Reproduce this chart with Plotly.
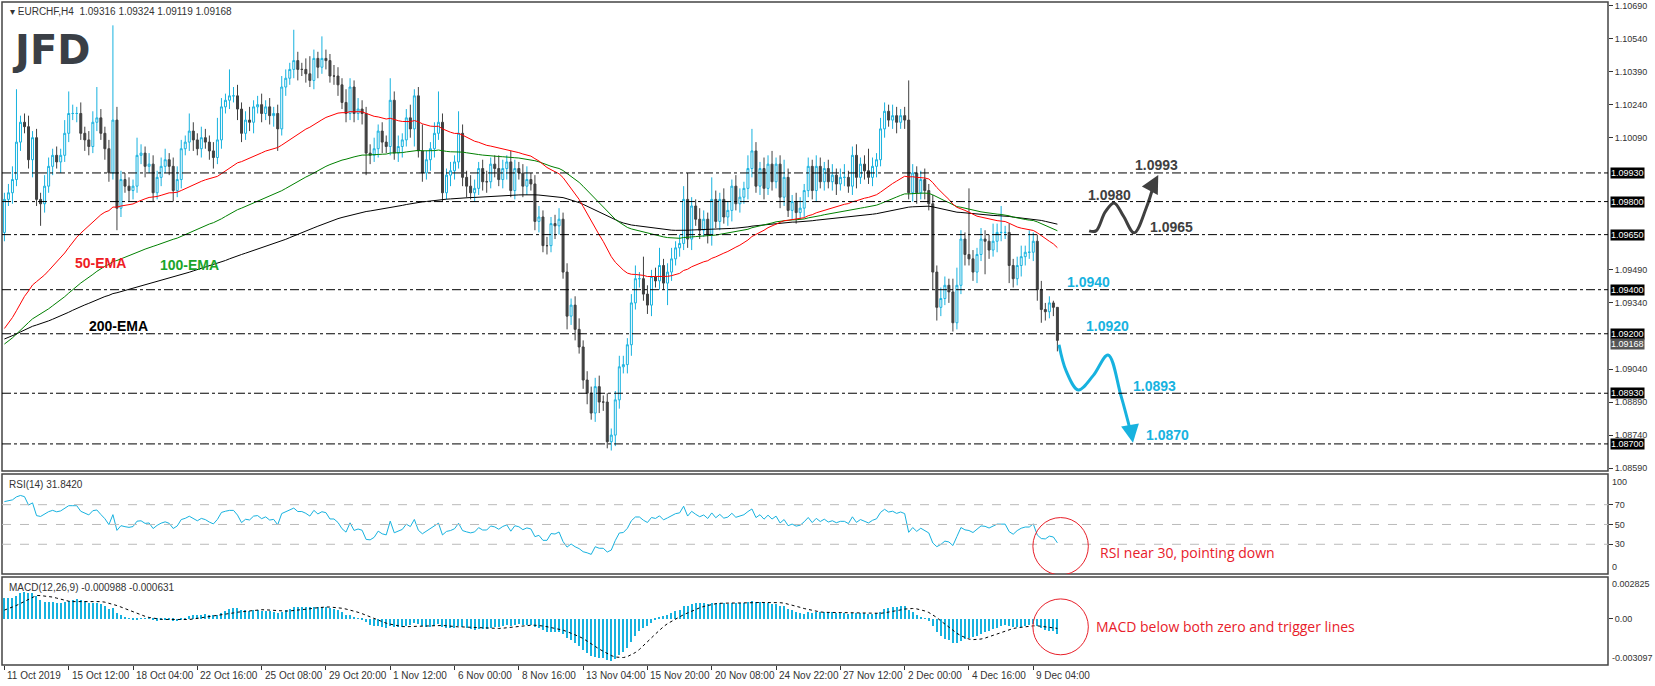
import plotly.graph_objects as go

# ---- data (EURCHF H4) ----
closes = [
    1.0981, 1.0984, 1.0990, 1.1007, 1.1016, 1.1014, 1.0999, 1.1009, 1.0981, 1.0979,
    1.0987, 1.0996, 1.1001, 1.0998, 1.1001, 1.1011, 1.1020, 1.1020, 1.1020, 1.1011,
    1.1008, 1.1005, 1.1016, 1.1018, 1.1011, 1.1004, 1.0993, 1.1017, 1.0977, 1.0990,
    1.0987, 1.0985, 1.0987, 1.1001, 1.1002, 1.0996, 1.0997, 1.0984, 1.0991, 1.0996,
    1.0999, 1.0996, 1.0985, 1.0990, 1.1004, 1.1007, 1.1012, 1.1008, 1.1004, 1.1009,
    1.1007, 1.1003, 1.1000, 1.1008, 1.1023, 1.1026, 1.1028, 1.1028, 1.1022, 1.1011,
    1.1017, 1.1016, 1.1023, 1.1024, 1.1020, 1.1023, 1.1019, 1.1020, 1.1013, 1.1032,
    1.1036, 1.1040, 1.1044, 1.1040, 1.1040, 1.1038, 1.1035, 1.1045, 1.1041, 1.1045,
    1.1044, 1.1037, 1.1037, 1.1033, 1.1025, 1.1020, 1.1032, 1.1020, 1.1022, 1.1020,
    1.1002, 1.1001, 1.1004, 1.1012, 1.1007, 1.1005, 1.1026, 1.1002, 1.1005, 1.1008,
    1.1018, 1.1013, 1.1028, 1.1003, 1.0993, 1.0999, 1.1004, 1.1011, 1.1016, 1.0984,
    1.0992, 1.0994, 1.0998, 1.1011, 1.0991, 1.0987, 1.0984, 1.0986, 1.0995, 1.0989,
    1.0989, 1.0997, 1.0995, 1.0990,
    1.0995, 1.0998, 1.0985, 1.0995, 1.0993, 1.0987, 1.0990, 1.0988,
    1.0971, 1.0973, 1.0960, 1.0960, 1.0970, 1.0969, 1.0972, 1.0948,
    1.0928, 1.0933, 1.0922, 1.0914, 1.0899, 1.0893, 1.0884, 1.0896, 1.0889, 1.0889,
    1.0871, 1.0874, 1.0890, 1.0905, 1.0906, 1.0915, 1.0934, 1.0945, 1.0945, 1.0938,
    1.0933, 1.0946, 1.0944, 1.0951, 1.0943, 1.0948, 1.0954, 1.0959, 1.0961,
    1.0981, 1.0963, 1.0978, 1.0972, 1.0967, 1.0972, 1.0965, 1.0981, 1.0971,
    1.0981, 1.0973, 1.0976, 1.0987, 1.0979, 1.0982, 1.0986, 1.0995,
    1.1003, 1.0987, 1.0995, 1.0986, 1.0997, 1.0989, 1.0997, 1.0982, 1.0991,
    1.0976, 1.0980, 1.0975, 1.0977, 1.0985, 1.0996, 1.0985, 1.0996, 1.0989,
    1.0995, 1.0989, 1.0992, 1.0988, 1.0991, 1.0991, 1.0987, 1.1001, 1.0991,
    1.0997, 1.0994, 1.0991, 1.0996, 1.0999, 1.1013, 1.1021, 1.1017, 1.1019,
    1.1016, 1.1019, 1.1017, 1.0984, 1.0993, 1.0984, 1.0990, 1.0985, 1.0979,
    1.0948, 1.0932, 1.0936, 1.0942, 1.0939, 1.0925, 1.0942, 1.0963, 1.0956,
    1.0954, 1.0948, 1.0956, 1.0963, 1.0962, 1.0958, 1.0962, 1.0966, 1.0966,
    1.0966, 1.0951, 1.0945, 1.0951, 1.0955, 1.0957, 1.0957, 1.0962, 1.0940,
    1.0931, 1.0930, 1.0934, 1.0932, 1.0917,
]
first_open = 1.0966

upper_wick_pips = [
    3, 4, 6, 24, 3, 4, 5, 3, 4, 3, 5, 4, 3, 4, 3, 6, 10, 4, 3, 5,
    3, 4, 5, 14, 4, 3, 4, 43, 6, 4, 3, 4, 3, 8, 4, 3, 5, 4, 3, 4,
    5, 3, 4, 6, 4, 3, 8, 4, 3, 5, 4, 3, 4, 10, 4, 3, 12, 4, 5, 3,
    4, 6, 3, 4, 5, 3, 4, 3, 4, 5, 4, 3, 14, 4, 3, 5, 8, 4, 3, 10,
    4, 3, 5, 4, 3, 6, 4, 3, 5, 4, 3, 4, 5, 3, 4, 3, 10, 4, 5, 3,
    4, 6, 3, 4, 12, 4, 3, 5, 14, 4, 3, 4, 3, 10, 4, 3, 5, 4, 3, 4,
    5, 3, 4, 6, 4, 3, 5, 4, 3, 4, 6, 3, 4, 5, 3, 4, 3, 4, 5, 3,
    4, 3, 4, 5, 3, 4, 3, 4, 5, 3, 4, 3, 4, 5, 4, 3, 4, 6, 3, 10,
    4, 3, 4, 8, 3, 4, 5, 3, 4, 6, 12, 4, 3, 5, 4, 3, 10, 4, 3, 5,
    4, 3, 5, 4, 3, 6, 10, 4, 3, 5, 4, 6, 3, 4, 8, 4, 3, 4, 5, 3,
    4, 3, 5, 4, 3, 4, 5, 3, 4, 6, 3, 4, 5, 3, 4, 10, 4, 3, 5, 4,
    3, 5, 4, 3, 4, 18, 4, 3, 4, 5, 3, 4, 3, 5, 4, 3, 6, 8, 4, 3,
    30, 4, 3, 5, 4, 3, 8, 4, 12, 3, 4, 3, 4, 5, 3, 10, 4, 3, 4, 3,
    3, 1, 0,
]
lower_wick_pips = [
    4, 3, 5, 3, 4, 3, 4, 8, 3, 10, 4, 3, 4, 3, 5, 3, 4, 3, 4, 3,
    5, 4, 3, 4, 3, 5, 4, 3, 10, 4, 3, 5, 4, 3, 4, 5, 3, 4, 3, 4,
    3, 4, 5, 3, 4, 3, 4, 5, 3, 4, 3, 4, 5, 3, 4, 3, 4, 3, 5, 4,
    3, 4, 5, 3, 4, 3, 4, 5, 10, 3, 4, 3, 4, 5, 3, 4, 3, 4, 5, 3,
    4, 3, 4, 5, 3, 4, 3, 4, 3, 5, 10, 4, 3, 4, 5, 3, 4, 3, 4, 5,
    3, 4, 8, 3, 4, 3, 5, 4, 3, 4, 3, 5, 4, 3, 4, 5, 3, 4, 3, 4,
    5, 3, 4, 3, 4, 5, 3, 4, 3, 5, 4, 3, 4, 5, 3, 4, 3, 6, 4, 3,
    6, 4, 5, 3, 4, 5, 3, 4, 5, 4, 3, 4, 5, 4, 3, 4, 5, 3, 4, 3,
    4, 5, 3, 4, 3, 10, 4, 3, 4, 3, 4, 5, 3, 4, 3, 4, 5, 3, 4, 3,
    4, 5, 3, 4, 3, 5, 4, 3, 4, 5, 3, 4, 3, 5, 4, 3, 4, 5, 3, 4,
    3, 4, 5, 3, 4, 3, 4, 5, 3, 4, 3, 4, 5, 3, 4, 3, 4, 5, 3, 4,
    3, 4, 5, 3, 4, 3, 4, 5, 3, 4, 3, 8, 6, 4, 3, 5, 4, 3, 4, 5,
    3, 4, 5, 3, 15, 4, 3, 5, 4, 3, 8, 4, 3, 5, 4, 3, 4, 5, 6, 4,
    3, 4, 5,
]

tick_labels = ["11 Oct 2019", "15 Oct 12:00", "18 Oct 04:00", "22 Oct 16:00", "25 Oct 08:00",
               "29 Oct 20:00", "1 Nov 12:00", "6 Nov 00:00", "8 Nov 16:00", "13 Nov 04:00",
               "15 Nov 20:00", "20 Nov 08:00", "24 Nov 22:00", "27 Nov 12:00", "2 Dec 00:00",
               "4 Dec 16:00", "9 Dec 04:00"]
bars_per_label = 16

levels = [1.0993, 1.0980, 1.0965, 1.0940, 1.0920, 1.0893, 1.0870]
axis_ticks = [1.1069, 1.1054, 1.1039, 1.1024, 1.1009, 1.0949, 1.0934, 1.0904, 1.0889, 1.0874, 1.0859]
last_price = 1.09168
rsi_levels = [30, 50, 70]

# indicator starting states (taken from the left edge of the chart)
ema_seed = {50: 1.0920, 100: 1.0914, 200: 1.0917}
ema12_seed, ema26_seed, signal_seed = 1.0970, 1.0956, 0.0005
rsi_gain_seed, rsi_loss_seed = 0.0007, 0.0003

# ---- build OHLC ----
n = len(closes)
idx = list(range(n))
opens = [first_open] + closes[:-1]
highs = [max(o, c) + u * 0.0001 for o, c, u in zip(opens, closes, upper_wick_pips)]
lows = [min(o, c) - d * 0.0001 for o, c, d in zip(opens, closes, lower_wick_pips)]


def ema(values, period, seed):
    a = 2.0 / (period + 1)
    out, e = [], seed
    for v in values:
        e = e + a * (v - e)
        out.append(e)
    return out


emas = {p: ema(closes, p, s) for p, s in ema_seed.items()}

# RSI(14), Wilder smoothing
rsi = []
ag, al = rsi_gain_seed, rsi_loss_seed
prev = first_open
for c in closes:
    ch = c - prev
    ag = (ag * 13 + max(ch, 0)) / 14
    al = (al * 13 + max(-ch, 0)) / 14
    rsi.append(100 - 100 / (1 + ag / al))
    prev = c

# MACD (MT4 style: main as histogram, SMA(9) signal)
macd = [a - b for a, b in zip(ema(closes, 12, ema12_seed), ema(closes, 26, ema26_seed))]
hist = [signal_seed] * 8 + macd
signal = [sum(hist[i:i + 9]) / 9 for i in range(n)]

BLUE = "#17b2df"
DARK = "#404040"
FONT = "Liberation Sans"
AXF = dict(size=9, color="#333")

fig = go.Figure()

fig.add_trace(go.Candlestick(
    x=idx, open=opens, high=highs, low=lows, close=closes,
    increasing=dict(line=dict(color=BLUE, width=1), fillcolor="white"),
    decreasing=dict(line=dict(color=DARK, width=1), fillcolor=DARK),
    whiskerwidth=0, showlegend=False, xaxis="x", yaxis="y"))

for p, col in [(200, "black"), (100, "#008000"), (50, "#ff0000")]:
    fig.add_trace(go.Scatter(x=idx, y=emas[p], mode="lines", line=dict(color=col, width=1),
                             showlegend=False, hoverinfo="skip", xaxis="x", yaxis="y"))

fig.add_trace(go.Scatter(x=idx, y=rsi, mode="lines", line=dict(color=BLUE, width=1),
                         showlegend=False, xaxis="x2", yaxis="y2"))

fig.add_trace(go.Bar(x=idx, y=macd, marker=dict(color=BLUE, line=dict(width=0)), width=0.3,
                     showlegend=False, xaxis="x3", yaxis="y3"))
fig.add_trace(go.Scatter(x=idx, y=signal, mode="lines", line=dict(color="black", width=1, dash="dot"),
                         showlegend=False, xaxis="x3", yaxis="y3"))

# projected paths (hand-drawn on the original)
blue_path_x = [262.4, 264.2, 267.2, 270.9, 274.6, 277.8, 280.3]
blue_path_y = [1.0915, 1.0903, 1.08945, 1.0901, 1.09104, 1.0892, 1.0875]
dark_path_x = [269.9, 271.6, 273.9, 276.1, 278.4, 281.1, 284.1, 286.2]
dark_path_y = [1.09667, 1.09667, 1.09753, 1.09794, 1.09735, 1.09658, 1.09771, 1.0989]
fig.add_trace(go.Scatter(x=blue_path_x, y=blue_path_y, mode="lines", line=dict(color=BLUE, width=3, shape="spline"),
                         showlegend=False, hoverinfo="skip", xaxis="x", yaxis="y"))
fig.add_trace(go.Scatter(x=dark_path_x, y=dark_path_y, mode="lines", line=dict(color=DARK, width=3, shape="spline"),
                         showlegend=False, hoverinfo="skip", xaxis="x", yaxis="y"))

# domains (paper fractions)
main_dom, rsi_dom, macd_dom = [0.2926, 1.0], [0.1373, 0.2881], [0.0, 0.1327]
xr = [-0.6, 399]
common_x = dict(range=xr, showgrid=False, zeroline=False, showticklabels=False, fixedrange=True)

fig.update_layout(
    width=1655, height=686,
    margin=dict(l=2, r=47, t=2, b=21),
    paper_bgcolor="white", plot_bgcolor="white",
    font=dict(family=FONT, size=10, color="#222"),
    bargap=0,
    xaxis=dict(common_x, anchor="y", rangeslider=dict(visible=False)),
    xaxis2=dict(common_x, anchor="y2", matches="x"),
    xaxis3=dict(common_x, anchor="y3", matches="x",
                tickvals=[i * bars_per_label for i in range(len(tick_labels))],
                ticktext=[""] * len(tick_labels), ticks="outside", ticklen=4, tickcolor="#333",
                showticklabels=True),
    yaxis=dict(domain=main_dom, side="right", range=[1.08577, 1.10706], showgrid=False, zeroline=False,
               tickvals=axis_ticks, ticktext=[f"{v:.5f}" for v in axis_ticks], ticks="outside", ticklen=4,
               tickcolor="#333", tickfont=AXF),
    yaxis2=dict(domain=rsi_dom, side="right", range=[0, 101], showgrid=False, zeroline=False,
                tickvals=rsi_levels, ticks="outside", ticklen=4, tickcolor="#333", tickfont=AXF),
    yaxis3=dict(domain=macd_dom, side="right", range=[-0.003097, 0.002825], showgrid=False, zeroline=False,
                tickvals=[0], ticktext=["0.00"], ticks="outside", ticklen=4, tickcolor="#333", tickfont=AXF),
)

shapes = []
for dom in (main_dom, rsi_dom, macd_dom):
    shapes.append(dict(type="rect", xref="paper", yref="paper", x0=0, x1=1, y0=dom[0], y1=dom[1],
                       line=dict(color="#444", width=1.5)))
for lv in levels:
    shapes.append(dict(type="line", xref="x", yref="y", x0=xr[0], x1=xr[1], y0=lv, y1=lv,
                       line=dict(color="black", width=1, dash="dashdot")))
for lv in rsi_levels:
    shapes.append(dict(type="line", xref="x2", yref="y2", x0=xr[0], x1=xr[1], y0=lv, y1=lv,
                       line=dict(color="#bbb", width=1, dash="dash")))
# red highlight circles
shapes.append(dict(type="circle", xref="x2", yref="y2", x0=255.9, x1=269.7, y0=-1, y1=57,
                   line=dict(color="#e8202a", width=1)))
shapes.append(dict(type="circle", xref="x3", yref="y3", x0=255.9, x1=269.7, y0=-0.00241, y1=0.00135,
                   line=dict(color="#e8202a", width=1)))
fig.update_layout(shapes=shapes)

ann = []
for i, lab in enumerate(tick_labels):
    ann.append(dict(x=i * bars_per_label, y=0, xref="x3", yref="paper", yshift=-3, text=lab,
                    showarrow=False, xanchor="left", yanchor="top", xshift=1,
                    font=dict(size=10, color="#333")))
for lv in levels:
    ann.append(dict(x=1, y=lv, xref="paper", yref="y", text=f"{lv:.5f}", showarrow=False,
                    xanchor="left", xshift=2, bgcolor="black", font=dict(size=9, color="white"),
                    borderpad=0))
ann.append(dict(x=1, y=last_price, xref="paper", yref="y", yshift=-3, text=f"{last_price:.5f}",
                showarrow=False, xanchor="left", xshift=2, bgcolor="#555", font=dict(size=9, color="white"),
                borderpad=0))
# edge labels of the indicator panels
for txt, yv, yr, anc in [("100", 100, "y2", "top"), ("0", 0, "y2", "bottom"),
                         ("0.002825", 0.002825, "y3", "top"), ("-0.003097", -0.003097, "y3", "bottom")]:
    ann.append(dict(x=1, y=yv, xref="paper", yref=yr, text=txt, showarrow=False, xanchor="left",
                    yanchor=anc, xshift=2, font=AXF))

# arrowheads of projected paths
ann.append(dict(x=280.8, y=1.08705, ax=280.3, ay=1.0876, axref="x", ayref="y", xref="x", yref="y",
                showarrow=True, arrowhead=2, arrowsize=1.2, arrowwidth=3, arrowcolor=BLUE, text=""))
ann.append(dict(x=287.1, y=1.09921, ax=286.2, ay=1.0989, axref="x", ayref="y", xref="x", yref="y",
                showarrow=True, arrowhead=2, arrowsize=1.2, arrowwidth=3, arrowcolor=DARK, text=""))

level_text = [("1.0993", 286.6, 1.09966, DARK), ("1.0980", 274.9, 1.0983, DARK), ("1.0965", 290.5, 1.09685, DARK),
              ("1.0940", 269.7, 1.09435, BLUE), ("1.0920", 274.4, 1.09236, BLUE), ("1.0893", 286.1, 1.08963, BLUE),
              ("1.0870", 289.3, 1.08741, BLUE)]
for t, x, y, col in level_text:
    ann.append(dict(x=x, y=y, xref="x", yref="y", text=f"<b>{t}</b>", showarrow=False,
                    font=dict(size=14, color=col)))

ann += [
    dict(x=24, y=1.0952, xref="x", yref="y", text="<b>50-EMA</b>", showarrow=False, font=dict(size=14, color="#ee1c25")),
    dict(x=46, y=1.0951, xref="x", yref="y", text="<b>100-EMA</b>", showarrow=False, font=dict(size=14, color="#1aa52a")),
    dict(x=28.5, y=1.09236, xref="x", yref="y", text="<b>200-EMA</b>", showarrow=False, font=dict(size=14, color="black")),
    dict(x=0.004, y=0.997, xref="paper", yref="paper", xanchor="left", yanchor="top", showarrow=False,
         text="▾ EURCHF,H4  1.09316 1.09324 1.09119 1.09168", font=dict(size=10, color="#333")),
    dict(x=0.005, y=0.965, xref="paper", yref="paper", xanchor="left", yanchor="top", showarrow=False,
         text="<b>JFD</b>", font=dict(family="DejaVu Sans", size=40, color="#3a3f46")),
    dict(x=0.003, y=rsi_dom[1] - 0.005, xref="paper", yref="paper", xanchor="left", yanchor="top", showarrow=False,
         text="RSI(14) 31.8420", font=dict(size=10, color="#333")),
    dict(x=0.003, y=macd_dom[1] - 0.005, xref="paper", yref="paper", xanchor="left", yanchor="top", showarrow=False,
         text="MACD(12,26,9) -0.000988 -0.000631", font=dict(size=10, color="#333")),
    dict(x=272, y=22, xref="x2", yref="y2", xanchor="left", showarrow=False,
         text="RSI near 30, pointing down", font=dict(family="Open Sans", size=14, color="#e8202a")),
    dict(x=271, y=-0.0005, xref="x3", yref="y3", xanchor="left", showarrow=False,
         text="MACD below both zero and trigger lines", font=dict(family="Open Sans", size=14, color="#e8202a")),
]
fig.update_layout(annotations=ann)

# drop the browser's default body margin so the full 1655px figure fits the window
fig.write_html("out.html", config={"displayModeBar": False},
               post_script="document.body.style.margin='0';")
